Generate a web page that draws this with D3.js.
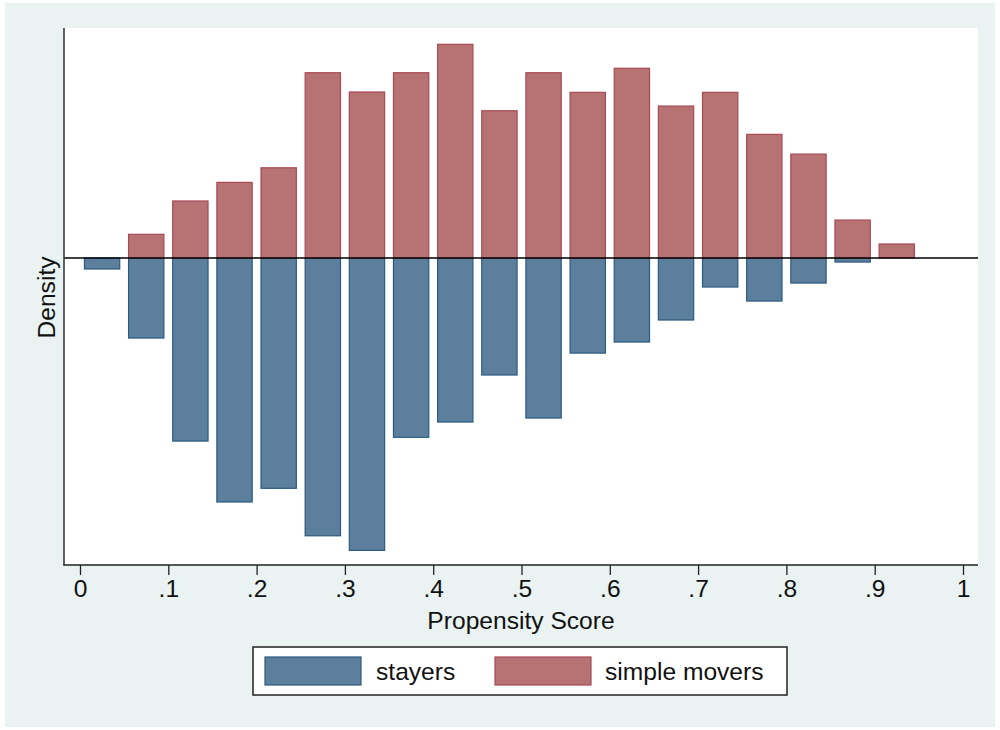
<!DOCTYPE html>
<html>
<head>
<meta charset="utf-8">
<script src="https://cdn.jsdelivr.net/npm/d3@7/dist/d3.min.js"></script>
<style>
  html, body { margin: 0; padding: 0; background: #ffffff; }
  svg { display: block; }
  text { font-family: "Liberation Sans", Arial, Helvetica, sans-serif; fill: #111; }
</style>
</head>
<body>
<svg id="chart" width="1000" height="730"></svg>
<script>
// ---- data ----
const binStarts = [0, .05, .1, .15, .2, .25, .3, .35, .4, .45, .5, .55, .6, .65, .7, .75, .8, .85, .9, .95];
const binWidth = 0.05;
const movers = [0, 0.208, 0.500, 0.663, 0.791, 1.624, 1.455, 1.624, 1.873, 1.291, 1.624, 1.452, 1.663, 1.332, 1.452, 1.084, 0.911, 0.333, 0.123, 0];
const stayers = [0.096, 0.701, 1.604, 2.138, 2.018, 2.434, 2.562, 1.571, 1.437, 1.025, 1.402, 0.833, 0.736, 0.543, 0.254, 0.377, 0.219, 0.035, 0, 0];
const xTicks = [0, .1, .2, .3, .4, .5, .6, .7, .8, .9, 1];
const xTickLabels = ["0", ".1", ".2", ".3", ".4", ".5", ".6", ".7", ".8", ".9", "1"];
const yDomain = [-2.69, 2.016];
const seriesNames = ["stayers", "simple movers"];

// ---- style ----
const blueFill = "#5b7f9c", blueStroke = "#2c5a80";
const redFill = "#b77274", redStroke = "#a84a55";
const fs = 24.6;

const svg = d3.select("#chart");
// outer graph region
svg.append("rect").attr("x", 5).attr("y", 3).attr("width", 990).attr("height", 724).attr("fill", "#eaf3f2");

const plot = { left: 64, right: 978, top: 28, bottom: 565 };
svg.append("rect").attr("x", plot.left).attr("y", plot.top)
  .attr("width", plot.right - plot.left).attr("height", plot.bottom - plot.top).attr("fill", "#ffffff");

const x = d3.scaleLinear().domain([0, 1]).range([80, 963]);
const y = d3.scaleLinear().domain(yDomain).range([plot.bottom, plot.top]);

const barW = binWidth * 0.8;
const bars = svg.append("g");

// stayers (plotted downward)
bars.selectAll("rect.st").data(binStarts.map((b, i) => ({ b, v: stayers[i] })).filter(d => d.v > 0))
  .join("rect").attr("class", "st")
  .attr("x", d => x(d.b + binWidth / 2 - barW / 2))
  .attr("width", d => x(barW) - x(0))
  .attr("y", y(0))
  .attr("height", d => y(-d.v) - y(0))
  .attr("fill", blueFill).attr("stroke", blueStroke).attr("stroke-width", 1.2);

// simple movers (upward)
bars.selectAll("rect.mv").data(binStarts.map((b, i) => ({ b, v: movers[i] })).filter(d => d.v > 0))
  .join("rect").attr("class", "mv")
  .attr("x", d => x(d.b + binWidth / 2 - barW / 2))
  .attr("width", d => x(barW) - x(0))
  .attr("y", d => y(d.v))
  .attr("height", d => y(0) - y(d.v))
  .attr("fill", redFill).attr("stroke", redStroke).attr("stroke-width", 1.2);

// zero line
svg.append("line").attr("x1", plot.left).attr("x2", plot.right)
  .attr("y1", y(0)).attr("y2", y(0)).attr("stroke", "#000").attr("stroke-width", 1.4);

// y axis line
svg.append("line").attr("x1", plot.left).attr("x2", plot.left)
  .attr("y1", plot.top).attr("y2", plot.bottom).attr("stroke", "#3a3a3a").attr("stroke-width", 1.6);

// x axis
const xAxis = d3.axisBottom(x).tickValues(xTicks).tickFormat((d, i) => xTickLabels[i])
  .tickSize(10).tickPadding(5).tickSizeOuter(0);
const gx = svg.append("g").attr("transform", `translate(0,${plot.bottom})`).call(xAxis);
gx.select(".domain").remove();
gx.selectAll(".tick line").attr("stroke", "#222").attr("stroke-width", 1.3);
gx.selectAll(".tick text").attr("font-size", fs).attr("fill", "#111")
  .attr("font-family", '"Liberation Sans", Arial, sans-serif');
svg.append("line").attr("x1", plot.left - 0.8).attr("x2", plot.right)
  .attr("y1", plot.bottom).attr("y2", plot.bottom).attr("stroke", "#222").attr("stroke-width", 1.6);

// axis titles
svg.append("text").attr("x", (plot.left + plot.right) / 2).attr("y", 629)
  .attr("text-anchor", "middle").attr("font-size", fs).text("Propensity Score");
svg.append("text").attr("transform", `translate(55,${(plot.top + plot.bottom) / 2 + 1}) rotate(-90)`)
  .attr("text-anchor", "middle").attr("font-size", fs).text("Density");

// legend
const lg = svg.append("g");
lg.append("rect").attr("x", 253).attr("y", 647).attr("width", 534).attr("height", 48)
  .attr("fill", "#fff").attr("stroke", "#222").attr("stroke-width", 1.5);
const legendItems = [
  { name: seriesNames[0], fill: blueFill, stroke: blueStroke, kx: 265, tx: 376 },
  { name: seriesNames[1], fill: redFill, stroke: redStroke, kx: 495, tx: 605 }
];
legendItems.forEach(it => {
  lg.append("rect").attr("x", it.kx).attr("y", 657).attr("width", 96).attr("height", 28)
    .attr("fill", it.fill).attr("stroke", it.stroke).attr("stroke-width", 1.2);
  lg.append("text").attr("x", it.tx).attr("y", 680).attr("font-size", fs).text(it.name);
});
</script>
</body>
</html>
